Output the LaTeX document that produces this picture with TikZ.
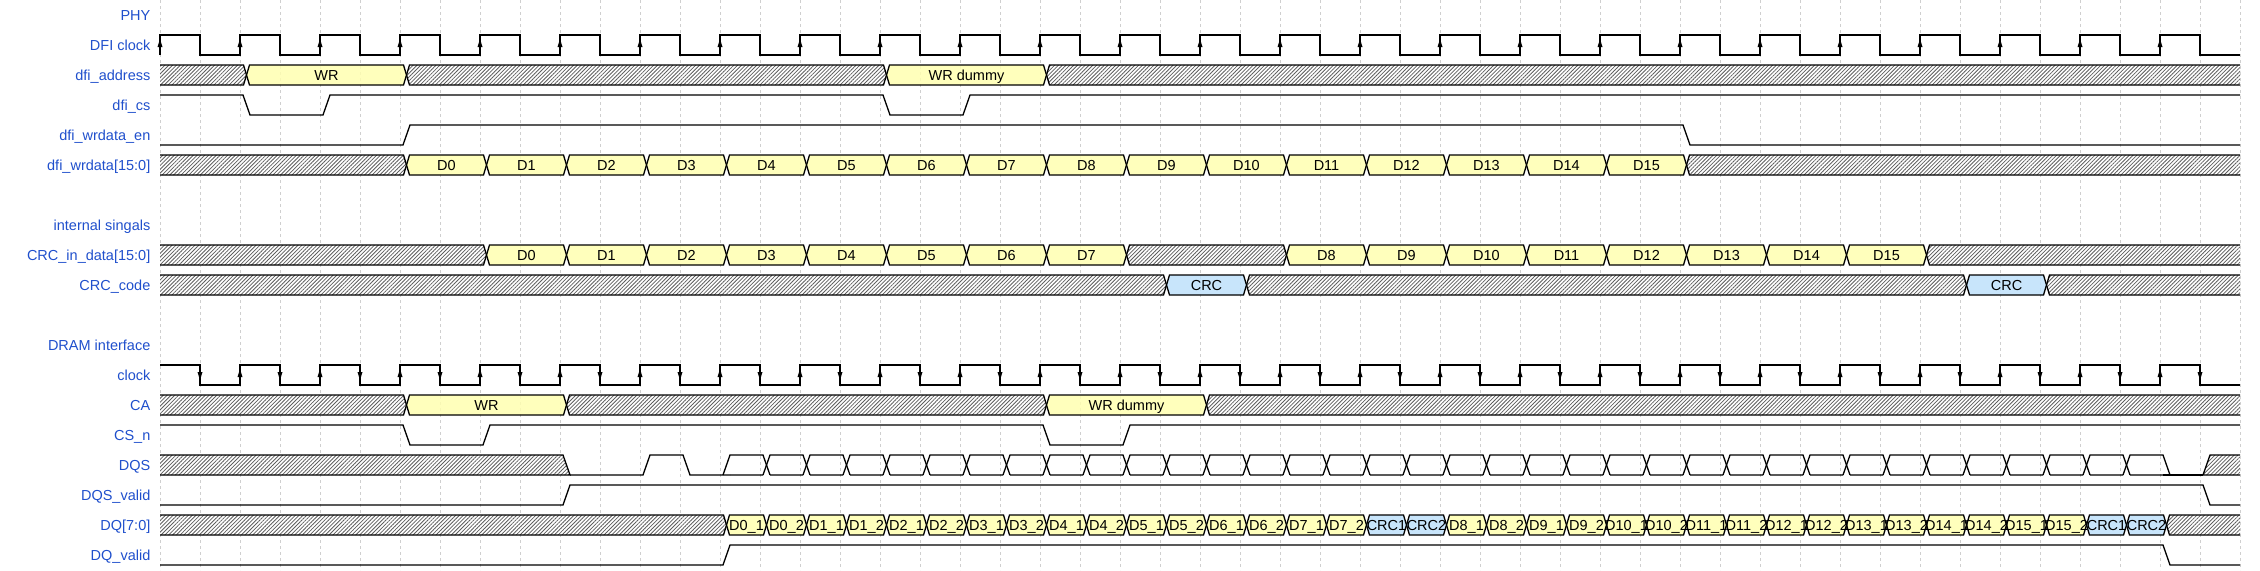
\documentclass[tikz,border=0pt]{standalone}
\usepackage{fontspec}
\setmainfont{Liberation Sans}
\usetikzlibrary{patterns.meta}
\definecolor{wvlabel} {HTML}{1F4FCC}
\definecolor{wvgrid}  {HTML}{CFCFCF}
\definecolor{wvyellow}{HTML}{FFFFB0}
\definecolor{wvblue}  {HTML}{BEE0FA}
\definecolor{wvhatch} {HTML}{5E5E5E}
\newcommand{\wvbus}[4]{%
  \draw[#1] ({166.5+40*(#3)},#2) -- ({169.5+40*(#3)},{#2-10}) -- ({163.5+40*(#4)},{#2-10})
    -- ({166.5+40*(#4)},#2) -- ({163.5+40*(#4)},{#2+10}) -- ({169.5+40*(#3)},{#2+10}) -- cycle;}

\begin{document}
\begin{tikzpicture}[x=0.5pt, y=-0.5pt, line width=0.65pt,
    font=\fontsize{7.25}{8.7}\selectfont,
    lbl/.style={text=wvlabel, anchor=base east, inner sep=0pt, yshift=-2.6pt},
    dat/.style={anchor=base, inner sep=0pt, yshift=-2.6pt},
    hatch/.style={preaction={fill=white}, pattern={Lines[angle=45,distance=1.35pt,line width=0.4pt]}, pattern color=wvhatch},
    ybus/.style={fill=wvyellow, fill opacity=0.85},
    bbus/.style={fill=wvblue, fill opacity=0.85}]
  \useasboundingbox (0,0) rectangle (2260,570);
  \foreach \k in {0,...,52}
    \draw[wvgrid, line width=0.5pt, dash pattern=on 1.6pt off 1.4pt] ({160+40*\k},0) -- ({160+40*\k},570);
  \foreach \y/\t [count=\i] in {15/PHY, 45/DFI clock, 75/dfi\_address, 105/dfi\_cs, 135/dfi\_wrdata\_en,
                               165/dfi\_wrdata[15:0], 225/internal singals, 255/CRC\_in\_data[15:0],
                               285/CRC\_code, 345/DRAM interface, 375/clock, 405/CA, 435/CS\_n,
                               465/DQS, 495/DQS\_valid, 525/DQ[7:0], 555/DQ\_valid}
    \node[lbl] (lbl\i) at (151,\y) {\t};
  \draw (160,55) \foreach \k in {0,...,25} { -- ({160+80*\k},35) -- ({200+80*\k},35) -- ({200+80*\k},55) -- ({240+80*\k},55) };
  \foreach \k in {0,...,25}
    \fill ({160+80*\k},39) -- ++(-2.5,8) -- ++(5,0) -- cycle;
  \draw (160,95) -- (243,95) -- (250,115) -- (323,115) -- (330,95) -- (883,95) -- (890,115) -- (963,115) -- (970,95) -- (2240,95);
  \draw (160,145) -- (403,145) -- (410,125) -- (1683,125) -- (1690,145) -- (2240,145);
  \draw (160,365) \foreach \k in {0,...,25} { -- ({160+80*\k},365) -- ({200+80*\k},365) -- ({200+80*\k},385) -- ({240+80*\k},385) };
  \foreach \k in {0,...,25}
    \fill ({200+80*\k},380) -- ++(-2.5,-8) -- ++(5,0) -- cycle;
  \foreach \k in {0,...,24}
    \fill ({240+80*\k},369) -- ++(-2.5,8) -- ++(5,0) -- cycle;
  \draw (160,425) -- (403,425) -- (410,445) -- (483,445) -- (490,425) -- (1043,425) -- (1050,445) -- (1123,445) -- (1130,425) -- (2240,425);
  \draw[hatch] (160,455) -- (563,455) -- (570,475) -- (160,475);
  \draw (570,475) -- (643,475) -- (650,455) -- (683,455) -- (690,475) -- (730,475);
  \foreach \k in {14,...,49}
    \draw ({163+40*\k},475) -- ({170+40*\k},455) -- ({203+40*\k},455) -- ({210+40*\k},475) ({170+40*\k},475) -- ({203+40*\k},475);
  \draw (2163,475) -- (2203,475);
  \draw[hatch] (2240,475) -- (2203,475) -- (2210,455) -- (2240,455);
  \draw (160,505) -- (563,505) -- (570,485) -- (2203,485) -- (2210,505) -- (2240,505);
  \draw (160,565) -- (723,565) -- (730,545) -- (2163,545) -- (2170,565) -- (2240,565);
  \begin{scope}
    \clip (160,0) rectangle (2240,570);
    \foreach \c/\a/\b in {75/-1/2, 75/6/18, 75/22/53, 165/-1/6, 165/38/53, 255/-1/8, 255/24/28, 255/44/53,
                          285/-1/25, 285/27/45, 285/47/53, 405/-1/6, 405/10/22, 405/26/53, 525/-1/14, 525/50/53} {
      \wvbus{hatch}{\c}{\a}{\b}
    }
    \foreach \c/\a/\b/\t/\n in {75/2/6/WR/aw, 75/18/22/WR dummy/ad, 405/6/10/WR/cw, 405/22/26/WR dummy/cd} {
      \wvbus{ybus}{\c}{\a}{\b}
      \node[dat] (\n) at ({166.5+20*(\a+\b)},\c) {\t};
    }
    \foreach \i [evaluate=\i as \a using int(6+2*\i), evaluate=\i as \b using int(\i<8 ? 8+2*\i : 12+2*\i)] in {0,...,15} {
      \wvbus{ybus}{165}{\a}{\a+2}
      \node[dat] (wd\i) at ({206.5+40*\a},165) {D\i};
      \wvbus{ybus}{255}{\b}{\b+2}
      \node[dat] (ci\i) at ({206.5+40*\b},255) {D\i};
    }
    \foreach \i [evaluate=\i as \a using int(\i<8 ? 14+2*\i : 16+2*\i)] in {0,...,15} {
      \wvbus{ybus}{525}{\a}{\a+1}
      \node[dat] (dqa\i) at ({186.5+40*\a},525) {D\i\_1};
      \wvbus{ybus}{525}{\a+1}{\a+2}
      \node[dat] (dqb\i) at ({226.5+40*\a},525) {D\i\_2};
    }
    \foreach \c/\a/\b/\t/\n in {285/25/27/CRC/cc1, 285/45/47/CRC/cc2, 525/30/31/CRC1/cq1,
                                525/31/32/CRC2/cq2, 525/48/49/CRC1/cq3, 525/49/50/CRC2/cq4} {
      \wvbus{bbus}{\c}{\a}{\b}
      \node[dat] (\n) at ({166.5+20*(\a+\b)},\c) {\t};
    }
  \end{scope}
\end{tikzpicture}
\end{document}
